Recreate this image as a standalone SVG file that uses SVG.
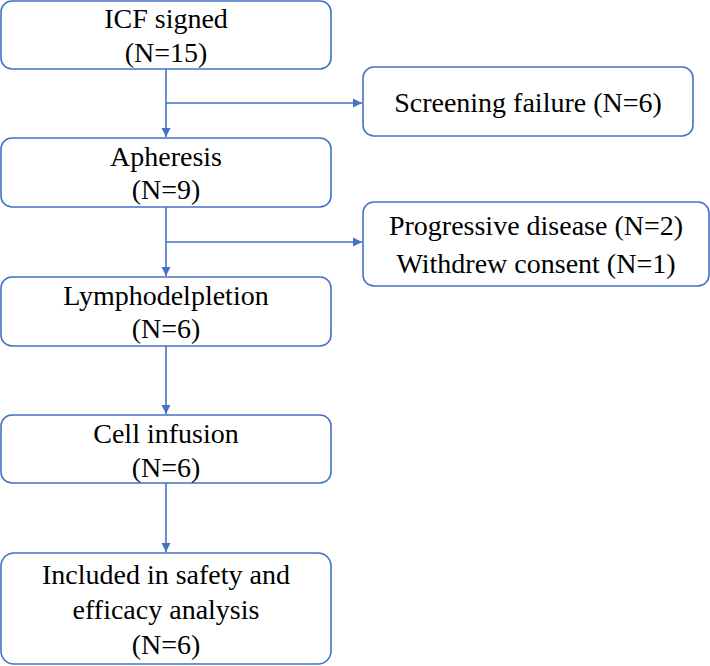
<svg xmlns="http://www.w3.org/2000/svg" width="710" height="666" viewBox="0 0 710 666">
<style>
.box{fill:#fff;stroke:#4472C4;stroke-width:1.6}
.t{font-family:"Liberation Serif","Times New Roman",serif;font-size:28px;fill:#000;text-anchor:middle}
.c{stroke:#4472C4;stroke-width:1.6;fill:none;marker-end:url(#ah)}
</style>
<defs>
<marker id="ah" markerWidth="10" markerHeight="10" refX="9" refY="5" orient="auto" markerUnits="userSpaceOnUse">
<path d="M0,0.5 L9,5 L0,9.5 Z" fill="#4472C4"/>
</marker>
</defs>
<rect width="710" height="666" fill="#fff"/>
<g id="connectors">
<path class="c" d="M166,69 V137"/>
<path class="c" d="M166,103 H362"/>
<path class="c" d="M166,207 V276"/>
<path class="c" d="M166,242 H362"/>
<path class="c" d="M166,346 V414"/>
<path class="c" d="M166,483 V552"/>
</g>
<g id="icf">
<rect class="box" x="1" y="1" width="330" height="68" rx="11"/>
<text class="t" x="166" y="28">ICF signed</text>
<text class="t" x="166" y="62">(N=15)</text>
</g>
<g id="screening">
<rect class="box" x="363" y="67" width="330" height="69" rx="11"/>
<text class="t" x="528" y="112">Screening failure (N=6)</text>
</g>
<g id="apheresis">
<rect class="box" x="1" y="138" width="330" height="69" rx="11"/>
<text class="t" x="166" y="166">Apheresis</text>
<text class="t" x="166" y="199">(N=9)</text>
</g>
<g id="dropout">
<rect class="box" x="363" y="202" width="346" height="84" rx="11"/>
<text class="t" x="536" y="235">Progressive disease (N=2)</text>
<text class="t" x="536" y="273">Withdrew consent (N=1)</text>
</g>
<g id="lymphodepletion">
<rect class="box" x="1" y="277" width="330" height="69" rx="11"/>
<text class="t" x="166" y="305">Lymphodelpletion</text>
<text class="t" x="166" y="338">(N=6)</text>
</g>
<g id="infusion">
<rect class="box" x="1" y="415" width="330" height="68" rx="11"/>
<text class="t" x="166" y="443">Cell infusion</text>
<text class="t" x="166" y="477">(N=6)</text>
</g>
<g id="analysis">
<rect class="box" x="1" y="553" width="330" height="111" rx="13"/>
<text class="t" x="166" y="584">Included in safety and</text>
<text class="t" x="166" y="619">efficacy analysis</text>
<text class="t" x="166" y="654">(N=6)</text>
</g>
</svg>
